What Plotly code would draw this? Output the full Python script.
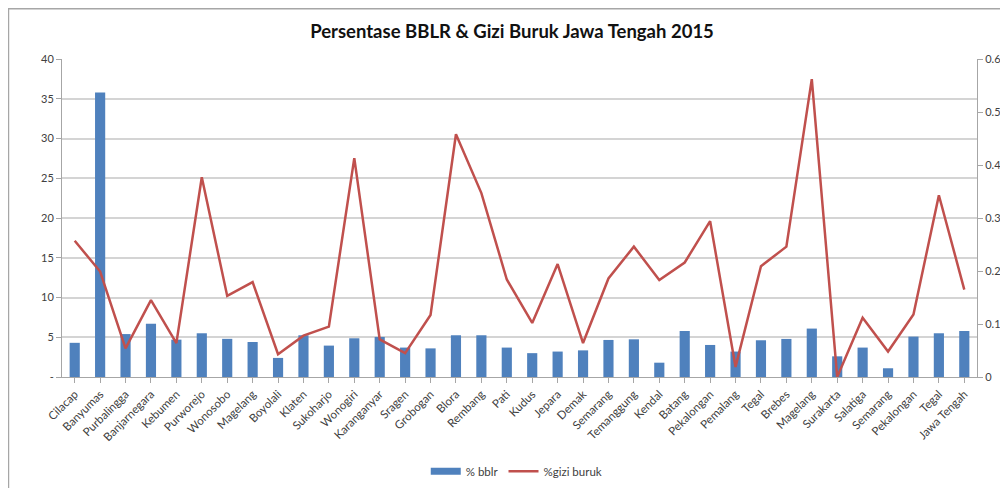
import plotly.graph_objects as go

categories = ["Cilacap", "Banyumas", "Purbalingga", "Banjarnegara", "Kebumen", "Purworejo",
              "Wonosobo", "Magelang", "Boyolali", "Klaten", "Sukoharjo", "Wonogiri",
              "Karanganyar", "Sragen", "Grobogan", "Blora", "Rembang", "Pati", "Kudus",
              "Jepara", "Demak", "Semarang", "Temanggung", "Kendal", "Batang", "Pekalongan",
              "Pemalang", "Tegal", "Brebes", "Magelang", "Surakarta", "Salatiga", "Semarang",
              "Pekalongan", "Tegal", "Jawa Tengah"]

bblr = [4.3, 35.8, 5.4, 6.7, 4.7, 5.5, 4.8, 4.4, 2.4, 5.25, 3.95, 4.87, 5.04, 3.7, 3.6,
        5.25, 5.25, 3.7, 3.0, 3.2, 3.35, 4.66, 4.74, 1.8, 5.79, 4.03, 3.2, 4.62, 4.79,
        6.09, 2.6, 3.7, 1.1, 5.08, 5.5, 5.79]

gizi_buruk = [0.257, 0.199, 0.054, 0.145, 0.064, 0.377, 0.153, 0.179, 0.043, 0.078, 0.095,
              0.413, 0.071, 0.045, 0.117, 0.458, 0.347, 0.184, 0.102, 0.213, 0.064, 0.186,
              0.246, 0.183, 0.216, 0.294, 0.019, 0.209, 0.246, 0.562, 0.0, 0.112, 0.048,
              0.118, 0.343, 0.165]

left_ticks = [0, 5, 10, 15, 20, 25, 30, 35, 40]
left_labels = ["-", "5", "10", "15", "20", "25", "30", "35", "40"]
right_ticks = [0, 0.1, 0.2, 0.3, 0.4, 0.5, 0.6]
right_labels = ["0", "0.1", "0.2", "0.3", "0.4", "0.5", "0.6"]

x = list(range(len(categories)))

FONT = "Lato"
TXT = "#404040"
BLUE = "#4f81bd"
RED = "#c0504d"

fig = go.Figure()
fig.add_trace(go.Bar(x=x, y=bblr, name="% bblr", marker=dict(color=BLUE, line=dict(width=0)),
                     width=0.4, yaxis="y", showlegend=False))
# legend entry drawn as a wide bar-like swatch
fig.add_trace(go.Scatter(x=[None], y=[None], name="% bblr", mode="lines",
                         line=dict(color=BLUE, width=7), yaxis="y"))
fig.add_trace(go.Scatter(x=x, y=gizi_buruk, name="%gizi buruk", mode="lines",
                         line=dict(color=RED, width=2.5), yaxis="y2"))

fig.update_layout(
    width=1000, height=480,
    margin=dict(l=54, r=31, t=51, b=111, autoexpand=False),
    paper_bgcolor="white", plot_bgcolor="white",
    font=dict(family=FONT, size=11, color=TXT),
    title=dict(text="<b>Persentase BBLR & Gizi Buruk Jawa Tengah 2015</b>",
               x=0.504, xanchor="center", y=0.952, yanchor="middle",
               font=dict(family=FONT, size=18.5, color="#111111")),
    showlegend=True,
    legend=dict(orientation="h", x=0.497, xanchor="center", yref="container", y=0.035,
                yanchor="middle", font=dict(size=11.5, color=TXT), itemwidth=30,
                traceorder="normal"),
    xaxis=dict(tickmode="array", tickvals=x, ticktext=categories, tickangle=-45,
               range=[-0.5, len(categories) - 0.5], showline=True, linecolor="#a6a6a6",
               linewidth=1, ticks="outside", tickson="boundaries", ticklen=5,
               tickcolor="#a6a6a6", showgrid=False, automargin=False,
               tickfont=dict(size=11.5, color=TXT)),
    yaxis=dict(range=[0, 40], tickvals=left_ticks, ticktext=left_labels, showline=True,
               linecolor="#a6a6a6", linewidth=1, ticks="outside", ticklen=5,
               tickcolor="#a6a6a6", showgrid=True, gridcolor="#d4d4d4", gridwidth=1.5,
               zeroline=False, automargin=False, tickfont=dict(size=11, color=TXT)),
    yaxis2=dict(range=[0, 0.6], tickvals=right_ticks, ticktext=right_labels, overlaying="y",
                side="right", showline=True, linecolor="#a6a6a6", linewidth=1,
                ticks="outside", ticklen=5, tickcolor="#a6a6a6", showgrid=False,
                zeroline=False, automargin=False, tickfont=dict(size=11, color=TXT)),
    shapes=[dict(type="rect", xref="paper", yref="paper", x0=-0.0585, x1=1.2, y0=-0.6, y1=1.158,
                 line=dict(color="#a6a6a6", width=1.5), fillcolor="rgba(0,0,0,0)", layer="below")],
)

fig.write_html("out.html")
